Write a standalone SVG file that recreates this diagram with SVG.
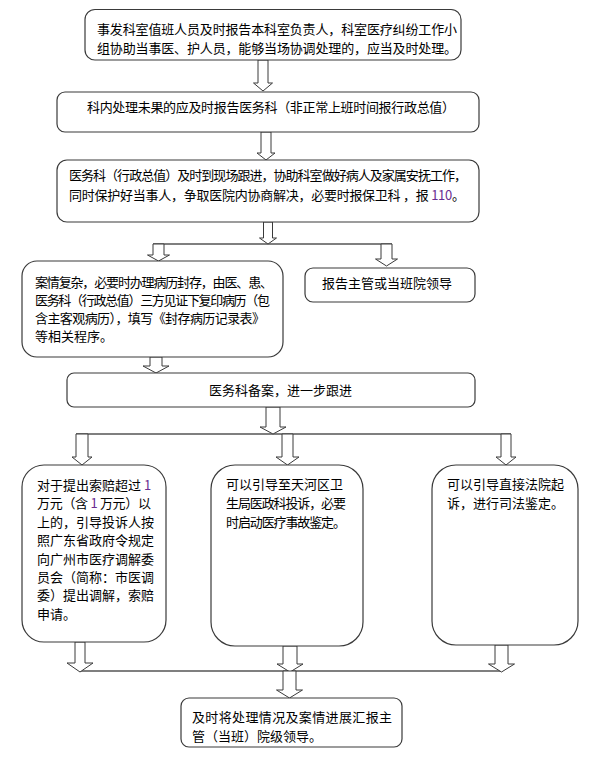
<svg xmlns="http://www.w3.org/2000/svg" width="609" height="758" viewBox="0 0 609 758">
<style>
.box{fill:#fff;stroke:#3a3a3a;stroke-width:1.2}
.t{font-family:"Noto Sans CJK SC","Liberation Sans",sans-serif;font-size:13px;fill:#000}
.n{fill:#6a2c91}
.ln{stroke:#000;stroke-width:1.2;fill:none}
.ar{fill:#fff;stroke:#3a3a3a;stroke-width:1}
</style>
<rect width="609" height="758" fill="#fff"/>
<g id="connectors">
<line class="ln" x1="153" y1="244" x2="392" y2="244"/>
<line class="ln" x1="76" y1="434" x2="511" y2="434"/>
<line class="ln" x1="80" y1="671" x2="502" y2="671"/>
<polygon class="ar" points="258,60 268,60 268,83 272.5,83 263,91 253.5,83 258,83"/>
<polygon class="ar" points="261,132 271,132 271,153 275,153 266,160 257,153 261,153"/>
<polygon class="ar" points="263.5,222 272.5,222 272.5,238 276.5,238 268,244 259.5,238 263.5,238"/>
<polygon class="ar" points="153,244 164,244 164,255 169.5,255 158.5,261 147.5,255 153,255"/>
<polygon class="ar" points="381,244 392,244 392,259 397.5,259 386.5,266 375.5,259 381,259"/>
<polygon class="ar" points="150,357 162,357 162,366 169,366 156,373 143,366 150,366"/>
<polygon class="ar" points="266,407 280,407 280,427 286,427 273,434 260,427 266,427"/>
<polygon class="ar" points="76,434 88,434 88,457 92,457 82,465 72,457 76,457"/>
<polygon class="ar" points="282,434 293,434 293,457 299,457 287.5,465 276,457 282,457"/>
<polygon class="ar" points="501,434 511,434 511,457 516,457 506,465 496,457 501,457"/>
<polygon class="ar" points="75,642 85,642 85,663 93,663 80,672 67,663 75,663"/>
<polygon class="ar" points="283,646 297,646 297,664 303,664 290,672 277,664 283,664"/>
<polygon class="ar" points="495,645 508,645 508,664 514.5,664 501.5,672 488.5,664 495,664"/>
<polygon class="ar" points="283,671 296,671 296,690 302.5,690 289.5,698 276.5,690 283,690"/>
</g>
<g id="n1">
<rect class="box" x="85" y="9.5" width="376" height="50.5" rx="10"/>
<text class="t" x="97" y="34" textLength="360" lengthAdjust="spacing">事发科室值班人员及时报告本科室负责人，科室医疗纠纷工作小</text>
<text class="t" x="97" y="53" textLength="360" lengthAdjust="spacing">组协助当事医、护人员，能够当场协调处理的，应当及时处理。</text>
</g>
<g id="n2">
<rect class="box" x="57" y="92" width="422" height="40" rx="8"/>
<text class="t" x="87" y="112" textLength="368" lengthAdjust="spacing">科内处理未果的应及时报告医务科（非正常上班时间报行政总值）</text>
</g>
<g id="n3">
<rect class="box" x="57" y="160" width="422" height="62" rx="10"/>
<text class="t" x="69" y="180" textLength="398" lengthAdjust="spacing">医务科（行政总值）及时到现场跟进，协助科室做好病人及家属安抚工作，</text>
<text class="t" x="69" y="200" textLength="396" lengthAdjust="spacing">同时保护好当事人，争取医院内协商解决，必要时报保卫科 ，报 <tspan class="n">110</tspan>。</text>
</g>
<g id="n4">
<rect class="box" x="22" y="261" width="261" height="96" rx="15"/>
<text class="t" x="35" y="287" textLength="238" lengthAdjust="spacing">案情复杂，必要时办理病历封存，由医、患、</text>
<text class="t" x="35" y="305" textLength="235" lengthAdjust="spacing">医务科（行政总值）三方见证下复印病历（包</text>
<text class="t" x="35" y="323" textLength="230" lengthAdjust="spacing">含主客观病历），填写《封存病历记录表》</text>
<text class="t" x="35" y="341">等相关程序。</text>
</g>
<g id="n5">
<rect class="box" x="305" y="268" width="170" height="34" rx="8"/>
<text class="t" x="322" y="288">报告主管或当班院领导</text>
</g>
<g id="n6">
<rect class="box" x="67" y="373" width="408" height="34" rx="7"/>
<text class="t" x="209" y="395">医务科备案，进一步跟进</text>
</g>
<g id="n7">
<rect class="box" x="22" y="465" width="144" height="177" rx="22"/>
<text class="t" x="37" y="490">对于提出索赔超过 <tspan class="n">1</tspan></text>
<text class="t" x="37" y="508.4" textLength="114" lengthAdjust="spacing">万元（含 <tspan class="n">1</tspan> 万元）以</text>
<text class="t" x="37" y="526.8">上的，引导投诉人按</text>
<text class="t" x="37" y="545.2">照广东省政府令规定</text>
<text class="t" x="37" y="563.6">向广州市医疗调解委</text>
<text class="t" x="37" y="582">员会（简称：市医调</text>
<text class="t" x="37" y="600.4">委）提出调解，索赔</text>
<text class="t" x="37" y="618.8">申请。</text>
</g>
<g id="n8">
<rect class="box" x="211" y="465" width="152" height="181" rx="24"/>
<text class="t" x="226" y="489">可以引导至天河区卫</text>
<text class="t" x="226" y="508" textLength="120" lengthAdjust="spacing">生局医政科投诉，必要</text>
<text class="t" x="226" y="527" textLength="120" lengthAdjust="spacing">时启动医疗事故鉴定。</text>
</g>
<g id="n9">
<rect class="box" x="432" y="465" width="146" height="180" rx="24"/>
<text class="t" x="447" y="489">可以引导直接法院起</text>
<text class="t" x="447" y="508">诉，进行司法鉴定。</text>
</g>
<g id="n10">
<rect class="box" x="181" y="698" width="221" height="49" rx="8"/>
<text class="t" x="192" y="722" textLength="200" lengthAdjust="spacing">及时将处理情况及案情进展汇报主</text>
<text class="t" x="192" y="741">管（当班）院级领导。</text>
</g>
</svg>
